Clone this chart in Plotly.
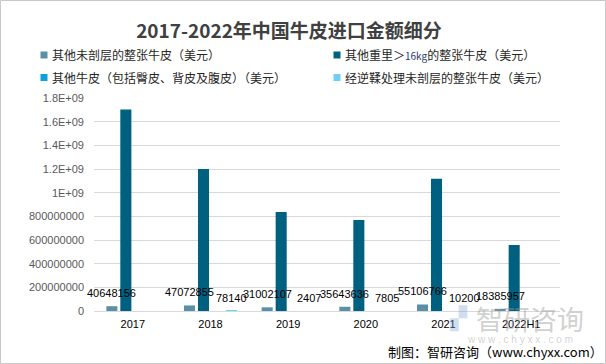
import plotly.graph_objects as go

# ---- data ----
categories = ["2017", "2018", "2019", "2020", "2021", "2022H1"]
series_names = [
    "其他未剖层的整张牛皮（美元）",
    "其他重里＞16kg的整张牛皮（美元）",
    "其他牛皮（包括臀皮、背皮及腹皮）（美元）",
    "经逆鞣处理未剖层的整张牛皮（美元）",
]
legend_labels = [
    "其他未剖层的整张牛皮（美元）",
    "其他重里＞<span style=\"font-size:10px;color:#1f3a70\">16kg</span>的整张牛皮（美元）",
    "其他牛皮（包括臀皮、背皮及腹皮）（美元）",
    "经逆鞣处理未剖层的整张牛皮（美元）",
]
s1_values = [40648156, 47072855, 31002107, 35643636, 55106766, 18385957]
s2_values = [1.702e9, 1.199e9, 8.37e8, 7.69e8, 1.117e9, 5.58e8]
s3_values = [None, None, None, None, None, None]
s4_values = [None, 78140, 2407, 7805, 10200, None]
y_tickvals = [0, 2e8, 4e8, 6e8, 8e8, 1e9, 1.2e9, 1.4e9, 1.6e9, 1.8e9]
y_ticktext = ["0", "200000000", "400000000", "600000000", "800000000",
              "1E+09", "1.2E+09", "1.4E+09", "1.6E+09", "1.8E+09"]

colors = ["#5b8fa8", "#00607f", "#0aa1dc", "#6ecff6"]
show_labels = [True, False, False, True]
label_xshift = [-21, -7, 7, 21]

W, H = 606, 364
L, R, T, B = 94, 46, 98, 53
PW, PH = W - L - R, H - T - B


def px(x):
    return (x - L) / PW


def py(y):
    return (H - B - y) / PH


fig = go.Figure()
all_values = [s1_values, s2_values, s3_values, s4_values]
annotations = []
for i, (name, vals) in enumerate(zip(series_names, all_values)):
    fig.add_trace(go.Bar(
        x=categories, y=vals, name=name, offsetgroup=str(i),
        marker=dict(color=colors[i], line=dict(width=0)),
        showlegend=False,
    ))
    if show_labels[i]:
        for j, v in enumerate(vals):
            if v is None:
                continue
            annotations.append(dict(
                x=j, y=v, xref="x", yref="y", text=f"{v:.0f}", showarrow=False,
                xanchor="center", yanchor="middle", xshift=label_xshift[i], yshift=13,
                font=dict(family="Liberation Sans, Arial, sans-serif", size=11, color="#000000")))

# custom legend (2 columns x 2 rows)
leg_pos = [(44, 55), (337, 55), (44, 77.5), (337, 77.5)]
shapes = []
for i, (cx, cy) in enumerate(leg_pos):
    shapes.append(dict(type="rect", xref="paper", yref="paper",
                       x0=px(cx - 3.5), x1=px(cx + 3.5), y0=py(cy + 3.5), y1=py(cy - 3.5),
                       fillcolor=colors[i], line=dict(width=0)))
    annotations.append(dict(text=legend_labels[i], xref="paper", yref="paper",
                            x=px(cx + 6), y=py(cy), xanchor="left", yanchor="middle",
                            showarrow=False,
                            font=dict(family="Noto Sans CJK SC", size=12, color="#262626")))

# border
shapes.append(dict(type="rect", xref="paper", yref="paper",
                   x0=px(0.5), x1=px(W - 0.5), y0=py(H - 0.5), y1=py(0.5),
                   line=dict(color="#c8c8c8", width=1), fillcolor="rgba(0,0,0,0)", layer="below"))

# watermark
annotations.append(dict(text="智研咨询", xref="paper", yref="paper", x=px(530), y=py(318),
                        xanchor="center", yanchor="middle", showarrow=False,
                        font=dict(family="Noto Sans CJK SC", size=27, color="rgba(150,150,150,0.45)")))
annotations.append(dict(text="w w w . c h y x x . c o m", xref="paper", yref="paper", x=px(520), y=py(339),
                        xanchor="center", yanchor="middle", showarrow=False,
                        font=dict(family="Liberation Sans", size=10, color="rgba(150,150,150,0.45)")))
annotations.append(dict(text="▞", xref="paper", yref="paper", x=px(458), y=py(318),
                        xanchor="center", yanchor="middle", showarrow=False,
                        font=dict(family="DejaVu Sans", size=22, color="rgba(120,160,210,0.35)")))
# source
annotations.append(dict(text="制图：智研咨询（www.chyxx.com）", xref="paper", yref="paper",
                        x=px(605), y=py(351), xanchor="right", yanchor="middle", showarrow=False,
                        font=dict(family="Noto Sans CJK SC", size=13, color="#000000")))

fig.update_layout(
    width=W, height=H,
    margin=dict(l=L, r=R, t=T, b=B),
    paper_bgcolor="white", plot_bgcolor="white",
    title=dict(text="<b>2017-2022年中国牛皮进口金额细分</b>", x=289 / W, xanchor="center",
               y=1 - 31 / H, yanchor="middle",
               font=dict(family="Noto Sans CJK SC", size=19, color="#404040")),
    barmode="group", bargap=0.28, bargroupgap=0.21,
    shapes=shapes, annotations=annotations,
    showlegend=False,
)
fig.update_xaxes(type="category", categoryorder="array", categoryarray=categories,
                 range=[-0.5, len(categories) - 0.5],
                 showgrid=False, showline=False, ticks="", ticklabelstandoff=5,
                 tickfont=dict(family="Liberation Sans, Arial, sans-serif", size=11, color="#000000"))
fig.update_yaxes(range=[0, 1.8e9], tickvals=y_tickvals, ticktext=y_ticktext,
                 showgrid=True, gridcolor="#d9d9d9", gridwidth=1,
                 zeroline=True, zerolinecolor="#d9d9d9", zerolinewidth=1,
                 showline=False, ticklabelstandoff=9,
                 tickfont=dict(family="Liberation Sans, Arial, sans-serif", size=11, color="#595959"))

fig.write_html("out.html", config={"displayModeBar": False},
               post_script="document.body.style.margin='0';document.body.style.overflow='hidden';")
